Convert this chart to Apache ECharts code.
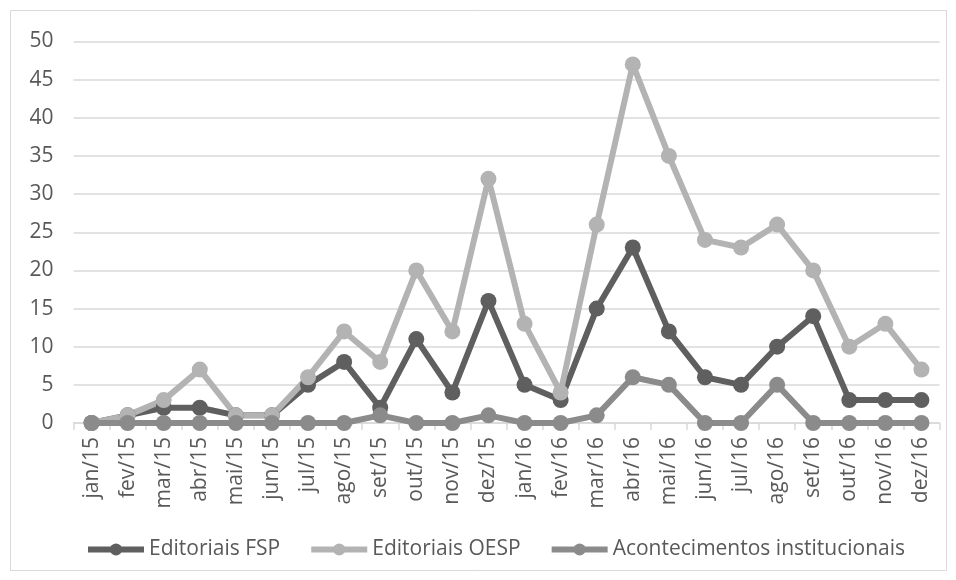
<!DOCTYPE html>
<html><head><meta charset="utf-8">
<script src="https://cdn.jsdelivr.net/npm/echarts@6/dist/echarts.min.js"></script>
<style>html,body{margin:0;padding:0;background:#fff}#c{width:956px;height:580px}</style>
</head><body><div id="c"></div>
<script>
const categories = ['jan/15','fev/15','mar/15','abr/15','mai/15','jun/15','jul/15','ago/15','set/15','out/15','nov/15','dez/15','jan/16','fev/16','mar/16','abr/16','mai/16','jun/16','jul/16','ago/16','set/16','out/16','nov/16','dez/16'];
const fsp = [0,1,2,2,1,1,5,8,2,11,4,16,5,3,15,23,12,6,5,10,14,3,3,3];
const oesp = [0,1,3,7,1,1,6,12,8,20,12,32,13,4,26,47,35,24,23,26,20,10,13,7];
const acont = [0,0,0,0,0,0,0,0,1,0,0,1,0,0,1,6,5,0,0,5,0,0,0,0];
const names = ['Editoriais FSP','Editoriais OESP','Acontecimentos institucionais'];
const colors = ['#5f5f5f','#b3b3b3','#8b8b8b'];
const font = 'Open Sans';
const chart = echarts.init(document.getElementById('c'));
function s(name, data, color){
  return {name, type:'line', data, color, symbol:'circle', symbolSize:16,
    lineStyle:{width:6,color}, itemStyle:{color}, animation:false};
}
chart.setOption({
  animation:false,
  textStyle:{fontFamily:font},
  graphic:[{type:'rect',shape:{x:10.5,y:10.5,width:936,height:560},style:{fill:'none',stroke:'#d9d9d9',lineWidth:1},silent:true}],
  grid:{left:73.5,right:16.5,top:41.5,bottom:157},
  legend:{top:534,left:80,itemWidth:56,itemHeight:15,itemGap:28,
    lineStyle:{width:6},
    textStyle:{fontFamily:font,fontSize:21,color:'#595959',padding:[0,0,0,0]},
    data:names},
  xAxis:{type:'category',data:categories,boundaryGap:true,
    axisLine:{lineStyle:{color:'#d9d9d9',width:1.5}},
    axisTick:{show:true,length:7,lineStyle:{color:'#d9d9d9',width:1.5}},
    axisLabel:{rotate:90,fontSize:21,color:'#595959',fontFamily:font,margin:14}},
  yAxis:{type:'value',min:0,max:50,interval:5,
    axisLine:{show:false},axisTick:{show:false},
    splitLine:{lineStyle:{color:'#d9d9d9',width:1.5}},
    axisLabel:{fontSize:21,color:'#595959',fontFamily:font,margin:20}},
  series:[s(names[0],fsp,colors[0]),s(names[1],oesp,colors[1]),s(names[2],acont,colors[2])]
});
</script></body></html>
